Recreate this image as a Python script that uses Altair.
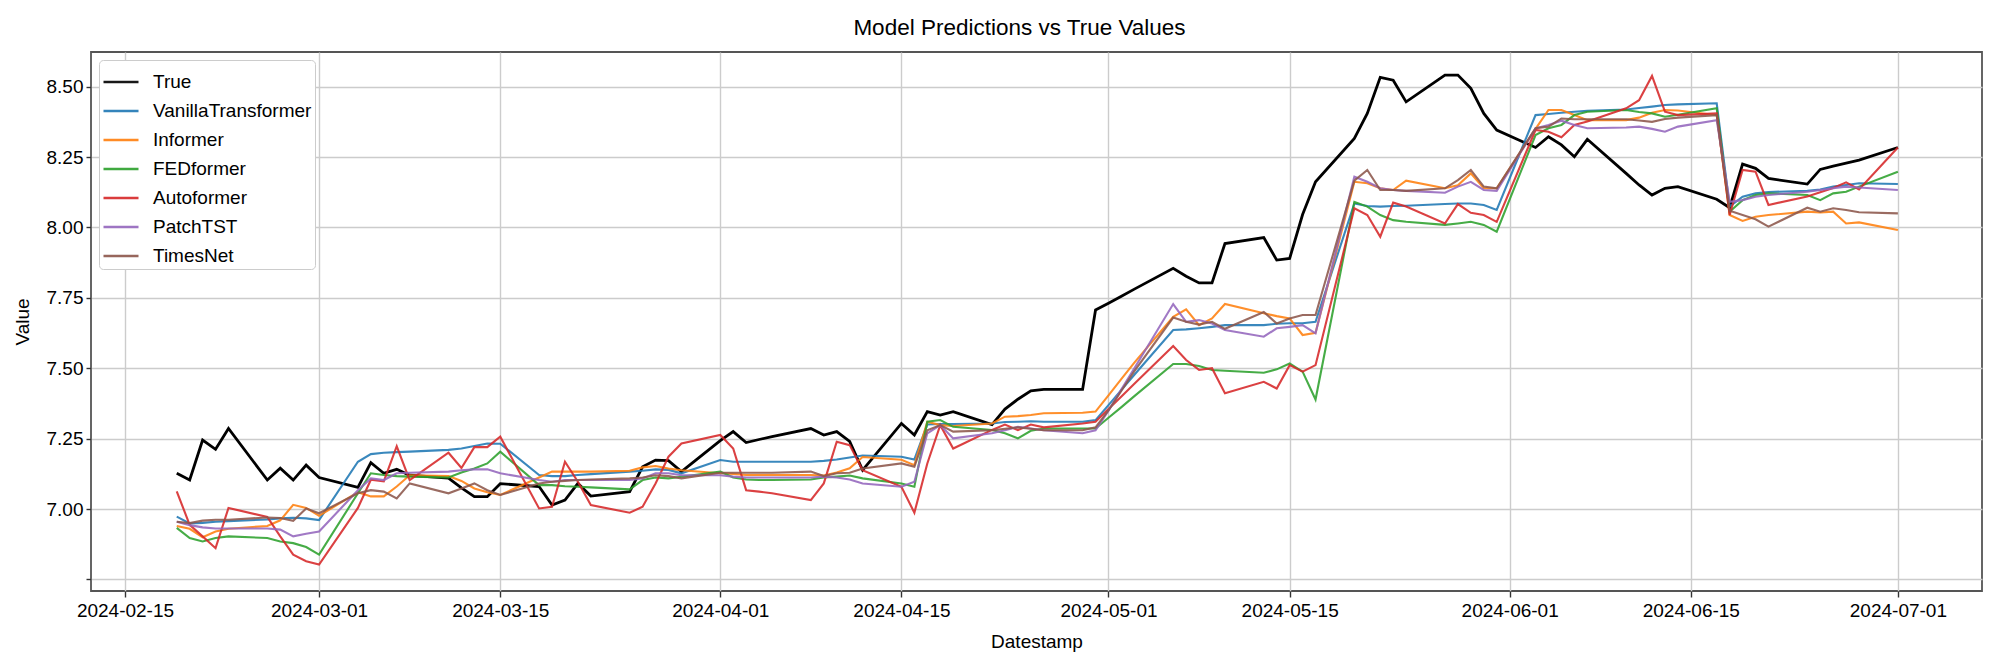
import altair as alt
import pandas as pd

# ---- data ----
dates = pd.bdate_range("2024-02-19", "2024-07-01").strftime("%Y-%m-%d").tolist()

series_names = ["True", "VanillaTransformer", "Informer", "FEDformer",
                "Autoformer", "PatchTST", "TimesNet"]
series_colors = ["#000000", "#1f77b4", "#ff7f0e", "#2ca02c",
                 "#d62728", "#9467bd", "#8c564b"]

true_vals = [7.127, 7.103, 7.245, 7.212, 7.286, 7.103, 7.145, 7.103, 7.156, 7.112,
             7.077, 7.165, 7.127, 7.141, 7.12, 7.11, 7.075, 7.044, 7.044, 7.09,
             7.08, 7.014, 7.032, 7.091, 7.046, 7.062, 7.15, 7.174, 7.172, 7.133,
             7.243, 7.275, 7.236, 7.247, 7.257, 7.286, 7.263, 7.275, 7.24, 7.138,
             7.304, 7.263, 7.346, 7.334, 7.346, 7.30, 7.355, 7.39, 7.42, 7.425,
             7.425, 7.707, 7.731, 7.756, 7.781, 7.855, 7.827, 7.803, 7.803, 7.943,
             7.964, 7.884, 7.89, 8.046, 8.162, 8.316, 8.405, 8.533, 8.523, 8.446,
             8.541, 8.541, 8.494, 8.405, 8.346, 8.284, 8.322, 8.293, 8.251, 8.313,
             8.192, 8.151, 8.115, 8.139, 8.145, 8.10, 8.07, 8.225, 8.21, 8.174,
             8.154, 8.206, 8.218, 8.228, 8.239, 8.284]

vanilla_vals = [6.973, 6.949, 6.951, 6.955, 6.957, 6.963, 6.967, 6.969, 6.967, 6.961,
                7.168, 7.195, 7.200, 7.202, 7.204, 7.210, 7.215, 7.224, 7.233, 7.232,
                7.121, 7.117, 7.117, 7.121, 7.124, 7.133, 7.136, 7.141, 7.139, 7.127,
                7.174, 7.168, 7.168, 7.168, 7.168, 7.168, 7.171, 7.176, 7.183, 7.190,
                7.186, 7.176, 7.300, 7.302, 7.302, 7.304, 7.309, 7.310, 7.312, 7.310,
                7.310, 7.316, 7.369, 7.423, 7.477, 7.636, 7.638, 7.642, 7.647, 7.653,
                7.653, 7.658, 7.660, 7.660, 7.665, 8.085, 8.076, 8.074, 8.076, 8.077,
                8.083, 8.085, 8.085, 8.080, 8.062, 8.399, 8.403, 8.407, 8.411, 8.414,
                8.419, 8.424, 8.429, 8.435, 8.437, 8.441, 8.074, 8.109, 8.121, 8.126,
                8.130, 8.135, 8.145, 8.151, 8.157, 8.154]

informer_vals = [6.940, 6.930, 6.900, 6.920, 6.930, 6.940, 6.960, 7.015, 7.004, 6.976,
                 7.060, 7.045, 7.045, 7.080, 7.120, 7.117, 7.100, 7.073, 7.060, 7.050,
                 7.112, 7.133, 7.133, 7.133, 7.133, 7.136, 7.148, 7.153, 7.144, 7.138,
                 7.127, 7.125, 7.121, 7.121, 7.121, 7.121, 7.119, 7.130, 7.145, 7.185,
                 7.175, 7.156, 7.310, 7.298, 7.295, 7.304, 7.328, 7.330, 7.334, 7.340,
                 7.342, 7.346, 7.404, 7.462, 7.520, 7.683, 7.709, 7.653, 7.677, 7.728,
                 7.695, 7.685, 7.677, 7.618, 7.626, 8.162, 8.157, 8.139, 8.133, 8.166,
                 8.139, 8.150, 8.192, 8.139, 8.139, 8.350, 8.417, 8.417, 8.399, 8.381,
                 8.381, 8.390, 8.407, 8.417, 8.415, 8.399, 8.044, 8.023, 8.038, 8.044,
                 8.056, 8.053, 8.056, 8.014, 8.018, 7.991]

fedformer_vals = [6.933, 6.897, 6.885, 6.897, 6.903, 6.897, 6.885, 6.879, 6.865, 6.838,
                  7.056, 7.127, 7.121, 7.117, 7.115, 7.112, 7.130, 7.144, 7.162, 7.204,
                  7.085, 7.085, 7.081, 7.079, 7.077, 7.070, 7.103, 7.112, 7.109, 7.115,
                  7.133, 7.112, 7.105, 7.103, 7.103, 7.105, 7.112, 7.115, 7.119, 7.109,
                  7.091, 7.079, 7.310, 7.316, 7.292, 7.281, 7.269, 7.251, 7.278, 7.286,
                  7.286, 7.286, 7.324, 7.362, 7.401, 7.515, 7.515, 7.508, 7.494, 7.491,
                  7.484, 7.496, 7.517, 7.488, 7.389, 8.091, 8.074, 8.044, 8.026, 8.020,
                  8.009, 8.014, 8.020, 8.009, 7.985, 8.328, 8.352, 8.364, 8.399, 8.411,
                  8.417, 8.410, 8.405, 8.393, 8.400, 8.423, 8.056, 8.097, 8.115, 8.121,
                  8.115, 8.097, 8.121, 8.127, 8.145, 8.198]

autoformer_vals = [7.063, 6.944, 6.903, 6.861, 7.004, 6.972, 6.903, 6.838, 6.815, 6.803,
                   7.004, 7.104, 7.098, 7.223, 7.103, 7.200, 7.146, 7.220, 7.220, 7.257,
                   7.002, 7.008, 7.168, 7.097, 7.014, 6.987, 7.008, 7.091, 7.186, 7.233,
                   7.263, 7.215, 7.067, 7.062, 7.056, 7.032, 7.091, 7.239, 7.227, 7.138,
                   7.079, 6.987, 7.162, 7.298, 7.215, 7.281, 7.300, 7.280, 7.300, 7.290,
                   7.304, 7.310, 7.355, 7.400, 7.445, 7.579, 7.529, 7.494, 7.500, 7.411,
                   7.452, 7.428, 7.511, 7.488, 7.511, 8.068, 8.044, 7.967, 8.088, 8.074,
                   8.014, 8.083, 8.052, 8.044, 8.020, 8.346, 8.340, 8.320, 8.364, 8.376,
                   8.423, 8.452, 8.538, 8.411, 8.399, 8.405, 8.044, 8.204, 8.198, 8.080,
                   8.110, 8.125, 8.140, 8.160, 8.135, 8.284]

patchtst_vals = [6.955, 6.943, 6.935, 6.931, 6.931, 6.931, 6.927, 6.903, 6.912, 6.920,
                 7.067, 7.109, 7.103, 7.127, 7.129, 7.133, 7.138, 7.141, 7.141, 7.127,
                 7.103, 7.097, 7.103, 7.103, 7.103, 7.103, 7.109, 7.127, 7.127, 7.120,
                 7.120, 7.115, 7.112, 7.112, 7.112, 7.112, 7.115, 7.112, 7.105, 7.091,
                 7.079, 7.097, 7.269, 7.298, 7.251, 7.269, 7.280, 7.292, 7.286, 7.280,
                 7.269, 7.280, 7.349, 7.425, 7.500, 7.728, 7.665, 7.671, 7.659, 7.636,
                 7.612, 7.642, 7.647, 7.653, 7.624, 8.180, 8.162, 8.139, 8.133, 8.130,
                 8.123, 8.145, 8.162, 8.133, 8.130, 8.352, 8.364, 8.379, 8.364, 8.352,
                 8.355, 8.358, 8.350, 8.340, 8.358, 8.381, 8.091, 8.097, 8.109, 8.115,
                 8.127, 8.133, 8.139, 8.145, 8.142, 8.133]

timesnet_vals = [6.955, 6.950, 6.959, 6.962, 6.962, 6.970, 6.968, 6.958, 7.002, 6.985,
                 7.056, 7.067, 7.062, 7.038, 7.091, 7.056, 7.073, 7.091, 7.067, 7.050,
                 7.091, 7.097, 7.100, 7.103, 7.105, 7.109, 7.112, 7.120, 7.117, 7.109,
                 7.129, 7.129, 7.129, 7.129, 7.129, 7.133, 7.117, 7.127, 7.129, 7.144,
                 7.162, 7.150, 7.280, 7.298, 7.275, 7.280, 7.285, 7.290, 7.285, 7.280,
                 7.280, 7.290, 7.350, 7.420, 7.490, 7.680, 7.665, 7.655, 7.665, 7.640,
                 7.700, 7.659, 7.677, 7.689, 7.689, 8.166, 8.204, 8.133, 8.133, 8.130,
                 8.139, 8.168, 8.204, 8.145, 8.139, 8.352, 8.358, 8.387, 8.384, 8.384,
                 8.384, 8.380, 8.375, 8.385, 8.390, 8.399, 8.059, 8.044, 8.029, 8.003,
                 8.070, 8.056, 8.068, 8.062, 8.054, 8.050]

y_ticks = [6.75, 7.00, 7.25, 7.50, 7.75, 8.00, 8.25, 8.50]
x_ticks = [(2, 15), (3, 1), (3, 15), (4, 1), (4, 15), (5, 1), (5, 15), (6, 1), (6, 15), (7, 1)]

# ---- build long table ----
all_vals = [true_vals, vanilla_vals, informer_vals, fedformer_vals,
            autoformer_vals, patchtst_vals, timesnet_vals]
rows = []
for name, vals in zip(series_names, all_vals):
    for d, v in zip(dates, vals):
        rows.append({"date": d, "series": name, "value": v})
df = pd.DataFrame(rows)

FONT = "Liberation Sans"

x_enc = alt.X(
    "date:T",
    title="Datestamp",
    scale=alt.Scale(
        type="utc",
        domain=[alt.DateTime(year=2024, month=2, date=12, hours=9, utc=True),
                alt.DateTime(year=2024, month=7, date=7, hours=12, utc=True)],
    ),
    axis=alt.Axis(
        values=[alt.DateTime(year=2024, month=m, date=d, utc=True) for m, d in x_ticks],
        format="%Y-%m-%d", tickSize=6, labelPadding=4, titlePadding=12,
        labelFlush=False, labelOverlap=False,
    ),
)
y_enc = alt.Y(
    "value:Q",
    title="Value",
    scale=alt.Scale(domain=[6.709, 8.623], nice=False, zero=False),
    axis=alt.Axis(
        values=y_ticks,
        labelExpr="datum.value < 6.8 ? '' : format(datum.value, '.2f')",
        tickSize=5, labelPadding=3, titlePadding=14, labelFlush=False,
    ),
)
color_enc = alt.Color(
    "series:N",
    scale=alt.Scale(domain=series_names, range=series_colors),
    legend=alt.Legend(
        title=None, orient="none", legendX=8, legendY=8,
        labelFont=FONT, labelFontSize=19, labelColor="black", labelLimit=0,
        symbolType="stroke", symbolSize=1225, symbolStrokeWidth=2.6,
        symbolOpacity=0.9, labelOffset=13, rowPadding=0,
        strokeColor="#cccccc", fillColor="white", padding=3, cornerRadius=4,
    ),
)

base = alt.Chart(df).encode(x=x_enc, y=y_enc, color=color_enc)

true_layer = base.mark_line(strokeWidth=2.8).transform_filter(alt.datum.series == "True")
model_layer = base.mark_line(strokeWidth=2.1, opacity=0.88).transform_filter(alt.datum.series != "True")

chart = alt.layer(true_layer, model_layer).properties(
    width=1891,
    height=539,
    title=alt.TitleParams("Model Predictions vs True Values", font=FONT, fontSize=22.5,
                          fontWeight="normal", color="black", offset=13, anchor="middle",
                          dx=-17),
    autosize=alt.AutoSizeParams(type="none"),
    padding={"left": 83, "top": 44, "right": 9, "bottom": 70},
).configure_axis(
    labelFont=FONT, labelFontSize=19, labelColor="black",
    titleFont=FONT, titleFontSize=19, titleFontWeight="normal", titleColor="black",
    gridColor="#cccccc", gridWidth=1.4, tickColor="#333333", tickWidth=1.4,
    domain=False,
).configure_view(
    stroke="#555555", strokeWidth=1.8,
)

chart.save("out.html", embed_options={"renderer": "svg", "actions": False})
